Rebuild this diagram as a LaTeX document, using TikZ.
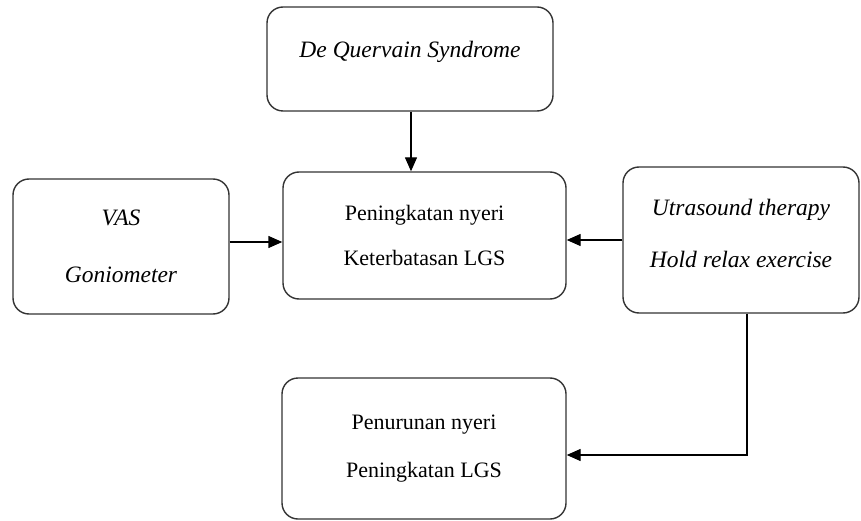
\documentclass[tikz,border=0pt]{standalone}
\usepackage{fontspec}
\setmainfont{Liberation Serif}
\usetikzlibrary{arrows.meta}

\tikzset{
  kotak/.style={draw=black!80,line width=1.4pt,rounded corners=16pt,
    inner sep=0pt,align=center,font=\fontsize{22}{26}\selectfont},
  miring/.style={font=\fontsize{23.5}{27}\selectfont\itshape},
  panah/.style={-{Triangle[length=14pt,width=12pt]},line width=1.4pt}
}

\begin{document}
\begin{tikzpicture}[x=1pt,y=-1pt]
    \useasboundingbox (0,0) rectangle (861,521);
    \node (dq) [kotak,miring,minimum width=286pt,minimum height=104pt,text depth=19pt]
      at (410,59) {De Quervain Syndrome};
    \node (mid) [kotak,minimum width=283pt,minimum height=127pt]
      at (424.5,235.5) {Peningkatan nyeri\\[19pt]Keterbatasan LGS};
    \node (vas) [kotak,miring,minimum width=216pt,minimum height=135pt]
      at (121,246.5) {VAS\\[30pt]Goniometer};
    \node (us) [kotak,miring,minimum width=236pt,minimum height=146pt,text depth=13pt]
      at (741,240) {Utrasound therapy\\[25pt]Hold relax exercise};
    \node (hasil) [kotak,minimum width=284pt,minimum height=141pt]
      at (424,448.5) {Penurunan nyeri\\[22pt]Peningkatan LGS};
    \draw[panah] ([xshift=1pt]dq.south) -- ([xshift=1pt]dq.south |- mid.north);
    \draw[panah] ([yshift=4.5pt]vas.east) -- ([yshift=4.5pt]vas.east -| mid.west);
    \draw[panah] (us.west) -- (us.west -| mid.east);
    \draw[panah] ([xshift=6pt]us.south) |- ([yshift=-6.5pt]hasil.east);
\end{tikzpicture}
\end{document}
